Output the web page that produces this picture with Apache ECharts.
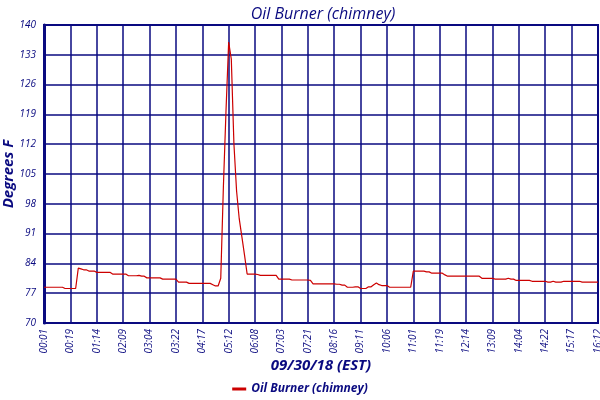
<!DOCTYPE html>
<html>
<head>
<meta charset="utf-8">
<script src="https://cdn.jsdelivr.net/npm/echarts@6/dist/echarts.min.js"></script>
<style>
  html, body { margin: 0; padding: 0; background: #fff; }
  #chimney { width: 600px; height: 400px; }
</style>
</head>
<body>
<div id="chimney"></div>
<script>
const mychart = echarts.init(document.getElementById('chimney'))

// labels under the grid lines, one every 10 readings
var timeTicks = ['00:01', '00:19', '01:14', '02:09', '03:04', '03:22', '04:17', '05:12', '06:08', '07:03', '07:21',
    '08:16', '09:11', '10:06', '11:01', '11:19', '12:14', '13:09', '14:04', '14:22', '15:17', '16:12']

// chimney temperature readings (deg F)
var temps = [
    78.4, 78.4, 78.4, 78.4, 78.4, 78.4, 78.4, 78.4, 78.1, 78.1,
    78.1, 78.1, 78.1, 82.9, 82.7, 82.5, 82.5, 82.2, 82.2, 82.2,
    81.9, 81.9, 81.9, 81.9, 81.9, 81.9, 81.5, 81.5, 81.5, 81.5,
    81.5, 81.5, 81.1, 81.1, 81.1, 81.1, 81.2, 81.0, 81.0, 80.6,
    80.6, 80.6, 80.6, 80.6, 80.6, 80.3, 80.3, 80.3, 80.3, 80.3,
    80.3, 79.6, 79.6, 79.6, 79.6, 79.3, 79.3, 79.3, 79.3, 79.3,
    79.3, 79.3, 79.3, 79.3, 79.0, 78.7, 78.7, 80.5, 102, 120,
    136, 132, 112, 101, 94.5, 90.3, 86, 81.5, 81.5, 81.5,
    81.5, 81.4, 81.2, 81.2, 81.2, 81.2, 81.2, 81.2, 81.2, 80.3,
    80.3, 80.3, 80.3, 80.3, 80.1, 80.1, 80.1, 80.1, 80.1, 80.1,
    80.1, 80.0, 79.2, 79.2, 79.2, 79.2, 79.2, 79.2, 79.2, 79.2,
    79.2, 79.1, 79.1, 78.9, 78.9, 78.4, 78.4, 78.4, 78.5, 78.5,
    78.1, 78.1, 78.1, 78.5, 78.5, 79.0, 79.4, 79.0, 78.8, 78.8,
    78.8, 78.4, 78.4, 78.4, 78.4, 78.4, 78.4, 78.4, 78.4, 78.4,
    82.2, 82.2, 82.2, 82.2, 82.2, 82.0, 82.0, 81.7, 81.7, 81.7,
    81.7, 81.7, 81.3, 81.0, 81.0, 81.0, 81.0, 81.0, 81.0, 81.0,
    81.0, 81.0, 81.0, 81.0, 81.0, 81.0, 80.5, 80.5, 80.5, 80.5,
    80.5, 80.3, 80.3, 80.3, 80.3, 80.3, 80.5, 80.3, 80.3, 80.0,
    80.0, 80.0, 80.0, 80.0, 80.0, 79.8, 79.8, 79.8, 79.8, 79.8,
    79.8, 79.6, 79.6, 79.8, 79.6, 79.6, 79.6, 79.8, 79.8, 79.8,
    79.8, 79.8, 79.8, 79.8, 79.6, 79.6, 79.6, 79.6, 79.6, 79.6,
    79.6
]

var navy = '#0a0a80'
var font = 'Open Sans'

mychart.setOption({
    animation: false,
    title: {
        text: 'Oil Burner (chimney)',
        left: 318,
        top: 1,
        textAlign: 'center',
        textStyle: {color: navy, fontFamily: font, fontStyle: 'italic', fontWeight: 'normal', fontSize: 16}
    },
    legend: {
        bottom: 0,
        left: 'center',
        itemWidth: 14,
        itemHeight: 3,
        icon: 'rect',
        data: ['Oil Burner (chimney)'],
        textStyle: {color: navy, fontFamily: font, fontStyle: 'italic', fontWeight: 'bold', fontSize: 12}
    },
    grid: {
        left: 44, right: 2, top: 25, bottom: 77,
        outerBoundsMode: 'none',
        containLabel: false,
        show: true, borderColor: navy, borderWidth: 2
    },
    xAxis: {
        type: 'value',
        min: 0,
        max: (timeTicks.length - 1) * 10,
        interval: 10,
        name: '09/30/18 (EST)',
        nameLocation: 'middle',
        nameMoveOverlap: false,
        nameGap: 35,
        nameTextStyle: {color: navy, fontFamily: font, fontStyle: 'italic', fontWeight: 'bold', fontSize: 15},
        axisLine: {show: true, lineStyle: {color: navy, width: 2}},
        axisTick: {show: false},
        splitLine: {show: true, lineStyle: {color: navy, width: 1.5}},
        axisLabel: {
            rotate: 90,
            margin: 6,
            color: navy,
            fontFamily: font,
            fontStyle: 'italic',
            fontSize: 10,
            showMinLabel: true,
            showMaxLabel: true,
            formatter: function (v) { return timeTicks[Math.round(v / 10)] }
        }
    },
    yAxis: {
        type: 'value',
        min: 70,
        max: 140,
        interval: 7,
        name: 'Degrees F',
        nameLocation: 'middle',
        nameMoveOverlap: false,
        nameGap: 28,
        nameTextStyle: {color: navy, fontFamily: font, fontStyle: 'italic', fontWeight: 'bold', fontSize: 15},
        axisLine: {show: true, lineStyle: {color: navy, width: 3}},
        axisTick: {show: false},
        splitLine: {show: true, lineStyle: {color: navy, width: 1.5}},
        axisLabel: {color: navy, fontFamily: font, fontStyle: 'italic', fontSize: 10, margin: 8}
    },
    series: [
        {
            name: 'Oil Burner (chimney)',
            type: 'line',
            showSymbol: false,
            color: '#cc0000',
            lineStyle: {width: 1.2, color: '#cc0000'},
            data: temps.map(function (t, i) { return [i, t] })
        }
    ]
})
</script>
</body>
</html>
